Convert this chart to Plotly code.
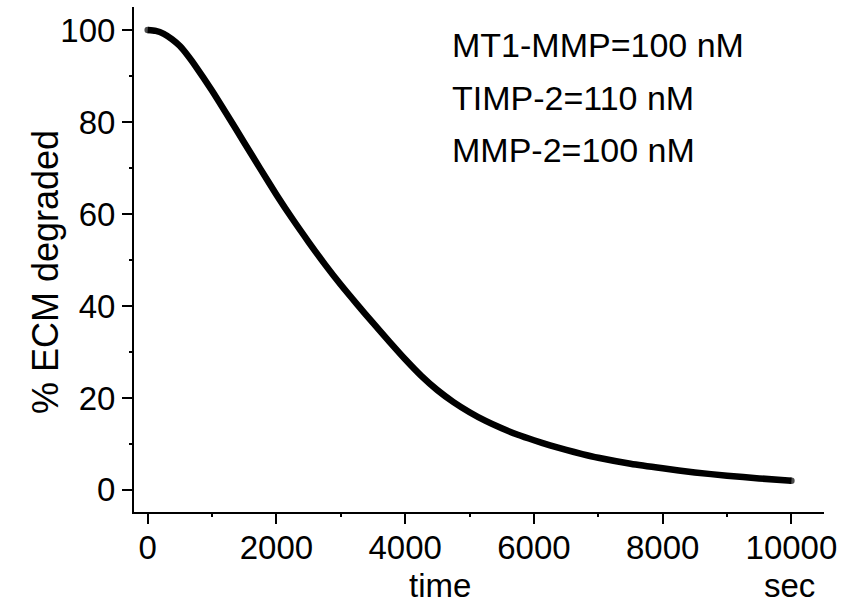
import plotly.graph_objects as go

# Data
time_s = [0, 125, 250, 375, 500, 625, 750, 1000, 1250, 1500, 1750, 2000, 2250, 2500, 2750,
          3000, 3250, 3500, 3750, 4000, 4250, 4500, 4750, 5000, 5250, 5500, 5750,
          6000, 6250, 6500, 6750, 7000, 7500, 8000, 8500, 9000, 9500, 10000]
ecm_pct = [100.0, 99.8, 99.15, 98.0, 96.5, 94.4, 92.0, 86.8, 81.2, 75.5, 69.8, 64.2, 58.9, 53.9, 49.1,
           44.6, 40.4, 36.3, 32.3, 28.4, 24.8, 21.7, 19.1, 16.9, 15.0, 13.4, 12.0,
           10.8, 9.7, 8.7, 7.8, 7.0, 5.7, 4.7, 3.8, 3.1, 2.5, 2.0]

x_ticks = [0, 2000, 4000, 6000, 8000, 10000]
y_ticks = [0, 20, 40, 60, 80, 100]
conditions = ["MT1-MMP=100 nM", "TIMP-2=110 nM", "MMP-2=100 nM"]

FONT = "Liberation Sans, Arial, sans-serif"
FS_TICK = 33
FS_NOTE = 34
FS_YT = 36

fig = go.Figure()
n = len(time_s)
fig.add_trace(go.Scatter(
    x=time_s, y=ecm_pct, mode="lines+markers",
    line=dict(color="black", width=6.5, shape="spline", smoothing=0.6),
    marker=dict(color="black", size=[6.5] + [0] * (n - 2) + [6.5], line=dict(width=0)),
    showlegend=False, hoverinfo="skip",
))

fig.update_layout(
    width=844, height=608,
    margin=dict(l=134, r=20, t=7, b=96),
    paper_bgcolor="white", plot_bgcolor="white",
    font=dict(family=FONT, size=FS_TICK, color="black"),
    xaxis=dict(
        range=[-213, 10506], tickvals=x_ticks, ticktext=[str(v) for v in x_ticks],
        showline=True, linecolor="black", linewidth=2,
        ticks="outside", ticklen=10, tickwidth=2, tickcolor="black",
        ticklabelstandoff=-5,
        minor=dict(dtick=1000, tick0=1000, ticks="outside", ticklen=3, tickwidth=1.5, tickcolor="black"),
        showgrid=False, zeroline=False, tickfont=dict(size=FS_TICK),
    ),
    yaxis=dict(
        range=[-4.8, 105], tickvals=y_ticks, ticktext=[str(v) for v in y_ticks],
        showline=True, linecolor="black", linewidth=2,
        ticks="outside", ticklen=10, tickwidth=2, tickcolor="black",
        minor=dict(dtick=20, tick0=10, ticks="outside", ticklen=3, tickwidth=1.5, tickcolor="black"),
        showgrid=False, zeroline=False, tickfont=dict(size=FS_TICK),
    ),
)

# axis titles as annotations
fig.add_annotation(text="time", xref="paper", yref="paper", x=(440 - 134) / 690.3, y=-(585 - 512) / 505,
                   xanchor="center", yanchor="middle", showarrow=False, font=dict(size=FS_TICK))
fig.add_annotation(text="sec", xref="paper", yref="paper", x=(790 - 134) / 690.3, y=-(585 - 512) / 505,
                   xanchor="center", yanchor="middle", showarrow=False, font=dict(size=FS_TICK))
fig.add_annotation(text="% ECM degraded", xref="paper", yref="paper", x=-(134 - 45) / 690.3,
                   y=(512 - 272) / 505, textangle=-90,
                   xanchor="center", yanchor="middle", showarrow=False, font=dict(size=FS_YT))

for i, txt in enumerate(conditions):
    ypix = 45 + 52.5 * i
    fig.add_annotation(text=txt, xref="paper", yref="paper", x=(450 - 134) / 690.3,
                       y=(512 - ypix) / 505, xanchor="left", yanchor="middle",
                       showarrow=False, font=dict(size=FS_NOTE))

fig.write_html("out.html")
